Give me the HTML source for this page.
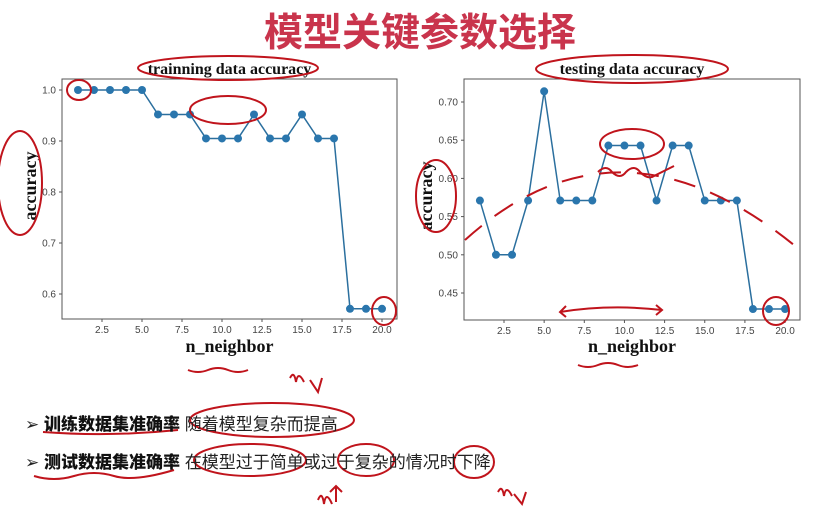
<!DOCTYPE html>
<html><head><meta charset="utf-8">
<style>
html,body{margin:0;padding:0;background:#fff;}
body{width:824px;height:513px;overflow:hidden;position:relative;font-family:"Liberation Sans","Noto Sans CJK SC",sans-serif;}
.title{position:absolute;left:0;width:840px;top:2px;text-align:center;font-size:39px;font-weight:bold;color:#c9344c;font-family:"Liberation Sans","Noto Sans CJK SC",sans-serif;}
.bullet{position:absolute;left:25px;font-size:17px;color:#222;white-space:nowrap;font-family:"Liberation Sans","Noto Sans CJK SC",sans-serif;}
.bullet b{font-weight:900;color:#111;}
svg{position:absolute;left:0;top:0;}
</style></head>
<body>
<div class="title">模型关键参数选择</div>
<svg id="chart" width="824" height="513"></svg>
<div class="bullet" style="top:410px">➢ <b>训练数据集准确率</b> 随着模型复杂而提高</div>
<div class="bullet" style="top:448px">➢ <b>测试数据集准确率</b> 在模型过于简单或过于复杂的情况时下降</div>
<script>
const neighbors=[1,2,3,4,5,6,7,8,9,10,11,12,13,14,15,16,17,18,19,20];
const trainAcc=[1,1,1,1,1,0.952,0.952,0.952,0.905,0.905,0.905,0.952,0.905,0.905,0.952,0.905,0.905,0.571,0.571,0.571];
const testAcc=[0.571,0.5,0.5,0.571,0.714,0.571,0.571,0.571,0.643,0.643,0.643,0.571,0.643,0.643,0.571,0.571,0.571,0.429,0.429,0.429];
const xTicks=[2.5,5.0,7.5,10.0,12.5,15.0,17.5,20.0];
const trainYTicks=[0.6,0.7,0.8,0.9,1.0];
const testYTicks=[0.45,0.50,0.55,0.60,0.65,0.70];
const NS='http://www.w3.org/2000/svg';
const svg=document.getElementById('chart');
function mk(tag,attrs,parent){const e=document.createElementNS(NS,tag);for(const k in attrs)e.setAttribute(k,attrs[k]);(parent||svg).appendChild(e);return e;}
function drawChart(o){
  const g=mk('g',{});
  
  
  const xs=v=>o.x0+(v-2.5)*o.xs;
  const ys=v=>o.y0-(v-o.yRef)*o.ys;
  const box=mk('rect',{x:o.L,y:o.T,width:o.R-o.L,height:o.B-o.T,fill:'none',stroke:'#555','stroke-width':1},g);
  
  
  xTicks.forEach(t=>{
    mk('line',{x1:xs(t),x2:xs(t),y1:o.B,y2:o.B+3,stroke:'#555'},g);
    const tx=mk('text',{x:xs(t),y:o.B+14,'font-size':10,'text-anchor':'middle',fill:'#444','font-family':'Liberation Sans'},g);
    tx.textContent=t.toFixed(1);
    
    
  });
  o.yticks.forEach(t=>{
    mk('line',{x1:o.L-3,x2:o.L,y1:ys(t),y2:ys(t),stroke:'#555'},g);
    const tx=mk('text',{x:o.L-6,y:ys(t)+3.5,'font-size':10,'text-anchor':'end',fill:'#444','font-family':'Liberation Sans'},g);
    tx.textContent=o.fmt(t);
    
    
  });
  const pts=neighbors.map((n,i)=>xs(n)+','+ys(o.data[i])).join(' ');
  const pl=mk('polyline',{points:pts,fill:'none',stroke:'#2b6f9e','stroke-width':1.5},g);
  
  
  neighbors.forEach((n,i)=>{
    const c=mk('circle',{cx:xs(n),cy:ys(o.data[i]),r:4,fill:'#2a76ad'},g);
    
    
  });
  const tt=mk('text',{x:(o.L+o.R)/2,y:74,'font-size':16,'font-weight':'bold','text-anchor':'middle','font-family':'Liberation Serif',fill:'#111'},g);
  tt.textContent=o.title;
  
  
  const xl=mk('text',{x:(o.L+o.R)/2,y:352,'font-size':18,'font-weight':'bold','text-anchor':'middle','font-family':'Liberation Serif',fill:'#111'},g);
  xl.textContent='n_neighbor';
  
  
  const yl=mk('text',{x:0,y:0,'font-size':18,'font-weight':'bold','text-anchor':'middle','font-family':'Liberation Serif',fill:'#111',transform:`translate(${o.ylx},${o.yly}) rotate(-90)`},g);
  yl.textContent='accuracy';
  
  
}
drawChart({name:'training-chart',L:62,R:397,T:79,B:319,x0:102,xs:16,y0:90,yRef:1.0,ys:510,yticks:trainYTicks,data:trainAcc,fmt:t=>t.toFixed(1),title:'trainning data accuracy',ylx:36,yly:186});
drawChart({name:'testing-chart',L:464,R:800,T:79,B:320,x0:504,xs:16.06,y0:102,yRef:0.70,ys:764,yticks:testYTicks,data:testAcc,fmt:t=>t.toFixed(2),title:'testing data accuracy',ylx:432,yly:196});
// handwritten annotations
const ann=mk('g',{fill:'none',stroke:'#c0141c','stroke-width':2});


[[228,68,90,12],[632,69,96,14],[228,110,38,14],[20,183,22,52],[436,196,20,36],[632,144,32,15],[776,311,13,14],[384,311,12,14],[79,90,12,10],[272,420,82,17],[250,460,56,16],[366,460,28,16],[474,462,20,16]].forEach(e=>{mk('ellipse',{cx:e[0],cy:e[1],rx:e[2],ry:e[3]},ann);});
mk('path',{d:'M465,240 Q620,100 800,250','stroke-dasharray':'22 16'},ann);
mk('path',{d:'M598,172 q8,-8 14,0 q8,8 14,0 q8,-8 14,0 q8,8 14,4 l20,-10'},ann);
mk('path',{d:'M560,312 Q610,304 662,310 M566,306 l-6,6 6,5 M656,305 l6,5 -6,5'},ann);
mk('path',{d:'M43,432 Q110,437 178,430'},ann);
mk('path',{d:'M34,476 q20,6 40,0 q20,-6 40,0 q20,6 60,-6'},ann);
mk('path',{d:'M578,365 q10,4 20,0 q10,-4 20,0 q10,4 20,0'},ann);
mk('path',{d:'M188,370 q10,4 20,0 q10,-4 20,0 q10,4 20,0'},ann);
mk('path',{d:'M290,378 q4,-8 6,4 q2,-12 8,0 M310,380 l8,12 4,-14'},ann);
mk('path',{d:'M318,500 q4,-10 6,4 q2,-14 8,0 M336,502 l0,-16 M330,492 l6,-6 6,6'},ann);
mk('path',{d:'M498,492 q4,-8 6,4 q2,-12 8,0 M514,494 l8,10 4,-12'},ann);
</script>
</body></html>
